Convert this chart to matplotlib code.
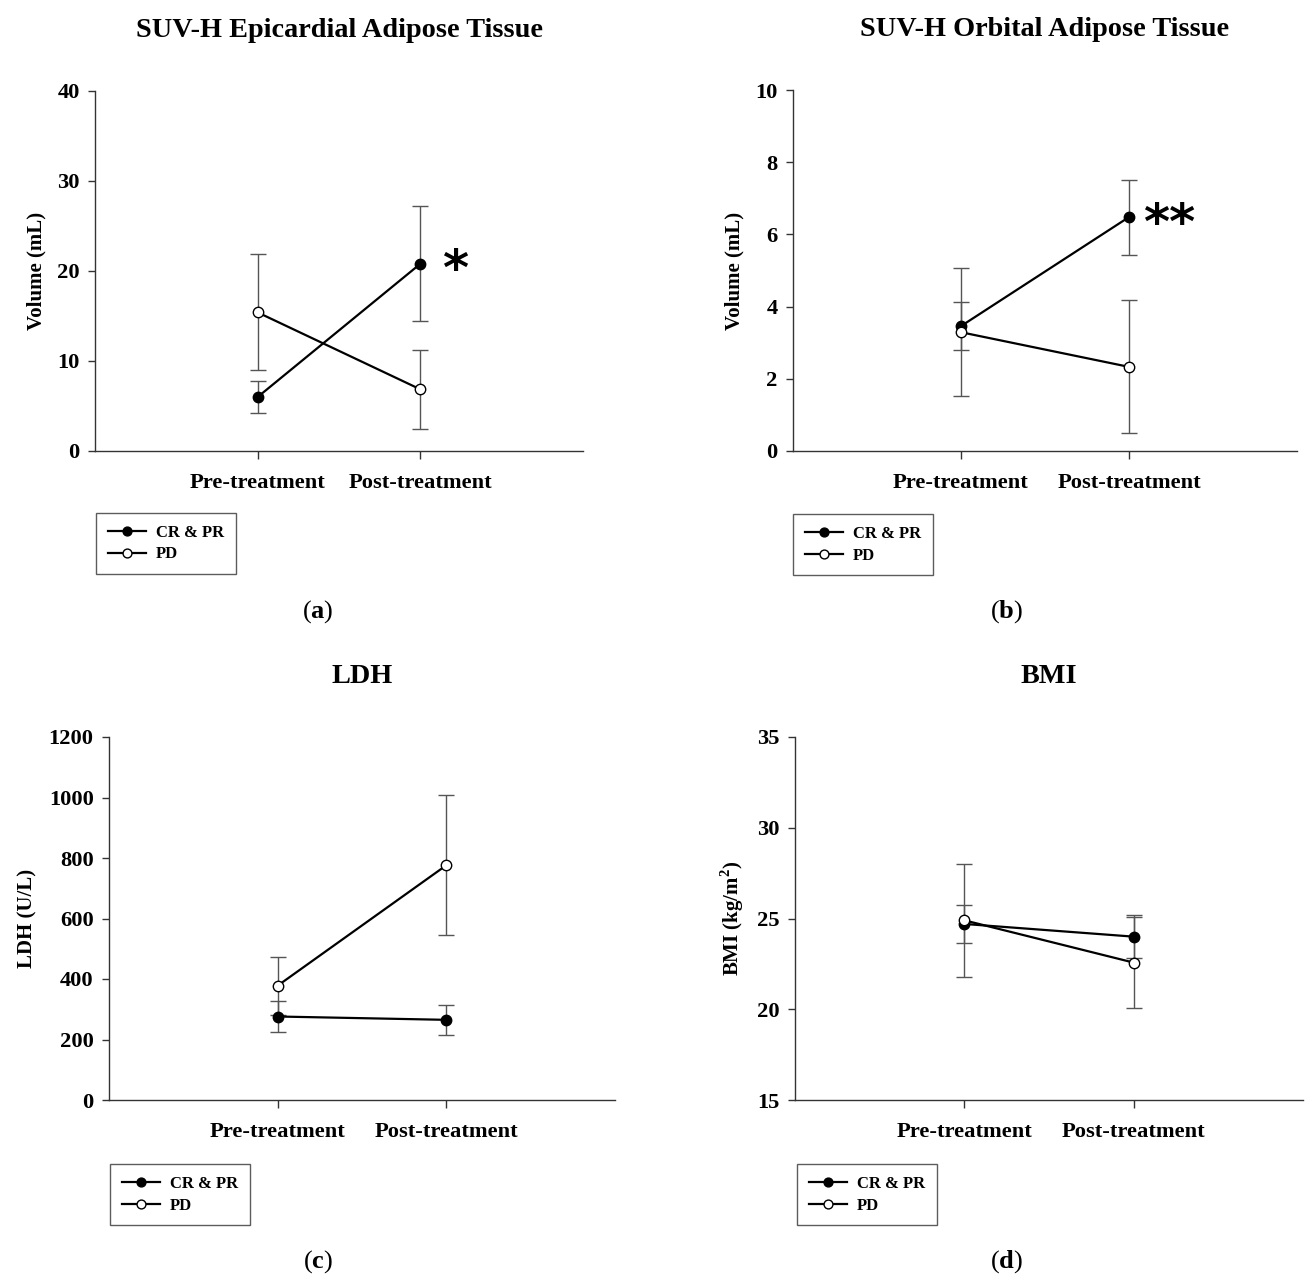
import matplotlib
matplotlib.use("Agg")
import matplotlib.pyplot as plt

# ==========================
# data
# ==========================

timepoints = ["Pre-treatment", "Post-treatment"]
groups = ["CR & PR", "PD"]

# (a) SUV-H epicardial adipose tissue, mL
epi_cr = [6.0, 20.8]
epi_cr_err = [1.8, 6.4]
epi_pd = [15.4, 6.85]
epi_pd_err = [6.45, 4.4]

# (b) SUV-H orbital adipose tissue, mL
orb_cr = [3.46, 6.48]
orb_cr_err = [0.67, 1.04]
orb_pd = [3.29, 2.33]
orb_pd_err = [1.78, 1.84]

# (c) LDH, U/L
ldh_cr = [276, 265]
ldh_cr_err = [51, 49]
ldh_pd = [378, 776]
ldh_pd_err = [96, 232]

# (d) BMI, kg/m2
bmi_cr = [24.7, 24.0]
bmi_cr_err = [1.04, 1.2]
bmi_pd = [24.9, 22.57]
bmi_pd_err = [3.1, 2.5]

# ==========================
# style
# ==========================

plt.rcParams["font.family"] = ["Liberation Serif", "DejaVu Serif"]
plt.rcParams["font.weight"] = "bold"
plt.rcParams["mathtext.fontset"] = "custom"
plt.rcParams["mathtext.rm"] = "Liberation Serif:bold"
plt.rcParams["mathtext.bf"] = "Liberation Serif:bold"

W, H = 1305, 1282
fig = plt.figure(figsize=(W / 100, H / 100), dpi=100)

axis_col = "#333333"
err_col = "#555555"


def rect(left, right, top, bottom):
    return [left / W, 1 - bottom / H, (right - left) / W, (bottom - top) / H]


def panel(box, title, ylabel, ylim, yticks, cr, cr_err, pd, pd_err,
          legend_xy, tag, tag_xy):
    ax = fig.add_axes(rect(*box))
    x = [1, 2]

    # error bars first, lines and markers on top
    ax.errorbar(x, cr, yerr=cr_err, fmt="none", ecolor=err_col,
                elinewidth=1.0, capsize=6, capthick=1.0, zorder=1)
    ax.errorbar(x, pd, yerr=pd_err, fmt="none", ecolor=err_col,
                elinewidth=1.0, capsize=6, capthick=1.0, zorder=1)

    ax.plot(x, cr, "-o", color="black", linewidth=1.6,
            markersize=7.5, markerfacecolor="black",
            markeredgecolor="black", label=groups[0], zorder=3)
    ax.plot(x, pd, "-o", color="black", linewidth=1.6,
            markersize=7.5, markerfacecolor="white",
            markeredgecolor="black", label=groups[1], zorder=3)

    ax.set_xlim(0, 3)
    ax.set_ylim(*ylim)
    ax.set_yticks(yticks)
    ax.set_xticks(x)
    ax.set_xticklabels(timepoints, fontsize=16.2, fontweight="bold")
    ax.tick_params(axis="y", labelsize=16.2, length=5, width=1,
                   color=axis_col, pad=6)
    ax.tick_params(axis="x", length=6, width=1, color=axis_col, pad=10)

    for s in ["top", "right"]:
        ax.spines[s].set_visible(False)
    for s in ["left", "bottom"]:
        ax.spines[s].set_color(axis_col)
        ax.spines[s].set_linewidth(1.0)

    ax.set_ylabel(ylabel, fontsize=15, fontweight="bold", labelpad=8)
    ax.set_title(title, fontsize=20.3, fontweight="bold", pad=39)

    leg = ax.legend(loc="upper left",
                    bbox_to_anchor=(legend_xy[0] / W, 1 - legend_xy[1] / H),
                    bbox_transform=fig.transFigure,
                    borderaxespad=0, fancybox=False, edgecolor=axis_col,
                    prop={"family": "Liberation Serif", "weight": "bold",
                          "size": 12},
                    handlelength=2.3, handletextpad=0.6,
                    borderpad=0.7, labelspacing=0.35, numpoints=1,
                    markerscale=0.85)
    leg.get_frame().set_linewidth(1.0)

    fig.text(tag_xy[0] / W, 1 - tag_xy[1] / H,
             "(" + r"$\mathbf{" + tag + "}$" + ")",
             ha="center", va="center", fontsize=19, fontweight="normal")
    return ax


ax_a = panel((95, 583, 91, 451), "SUV-H Epicardial Adipose Tissue",
             "Volume (mL)", (0, 40), [0, 10, 20, 30, 40],
             epi_cr, epi_cr_err, epi_pd, epi_pd_err,
             (96, 513), "a", (318, 612))
ax_a.annotate("*", (2, epi_cr[1]), xytext=(25, -5.5),
              textcoords="offset points", fontsize=36, fontweight="bold",
              ha="center", va="center", family="DejaVu Sans")

ax_b = panel((793, 1297, 90, 451), "SUV-H Orbital Adipose Tissue",
             "Volume (mL)", (0, 10), [0, 2, 4, 6, 8, 10],
             orb_cr, orb_cr_err, orb_pd, orb_pd_err,
             (793, 514), "b", (1007, 612))
ax_b.annotate("**", (2, orb_cr[1]), xytext=(29, -5.5),
              textcoords="offset points", fontsize=36, fontweight="bold",
              ha="center", va="center", family="DejaVu Sans")

panel((109, 615, 737, 1100), "LDH", "LDH (U/L)", (0, 1200),
      [0, 200, 400, 600, 800, 1000, 1200],
      ldh_cr, ldh_cr_err, ldh_pd, ldh_pd_err,
      (110, 1164), "c", (318, 1262))

panel((795, 1303, 737, 1100), "BMI", r"BMI (kg/m$^2$)", (15, 35),
      [15, 20, 25, 30, 35],
      bmi_cr, bmi_cr_err, bmi_pd, bmi_pd_err,
      (797, 1164), "d", (1007, 1262))

fig.savefig("out.png", dpi=100)
